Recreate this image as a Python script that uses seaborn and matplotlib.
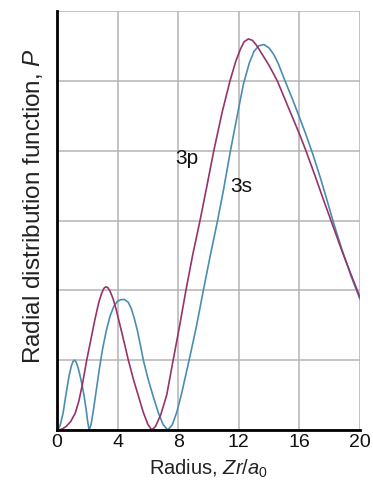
import matplotlib
matplotlib.use("Agg")
import matplotlib.pyplot as plt
import seaborn as sns
import pandas as pd

# 3s radial distribution function
r_3s = [0.0, 0.2, 0.4, 0.6, 0.8, 0.95, 1.08, 1.17, 1.27, 1.38, 1.5, 1.67, 1.8, 1.92, 2.02, 2.12,
        2.25, 2.4, 2.6, 2.8, 3.0, 3.25, 3.5, 3.75, 4.0, 4.2, 4.44, 4.7, 4.9, 5.1, 5.3,
        5.5, 5.7, 6.0, 6.35, 6.7, 7.0, 7.3, 7.6, 7.9, 8.2, 8.45, 8.72, 9.2, 9.66,
        10.1, 10.6, 11.0, 11.45, 11.85, 12.3, 12.7, 13.0, 13.3, 13.66, 14.0, 14.3, 14.6,
        15.05, 15.5, 16.0, 16.45, 16.87, 17.4, 17.85, 18.25, 18.8, 19.4, 20.0]
P_3s = [0.00, 0.06, 0.24, 0.52, 0.78, 0.92, 0.99, 1.00, 0.97, 0.90, 0.80, 0.63, 0.47, 0.30, 0.13, 0.00,
        0.08, 0.28, 0.58, 0.88, 1.15, 1.42, 1.63, 1.77, 1.845, 1.865, 1.87, 1.83, 1.74, 1.60, 1.43,
        1.22, 1.00, 0.74, 0.48, 0.24, 0.08, 0.00, 0.07, 0.25, 0.50, 0.74, 1.00, 1.48, 2.00,
        2.48, 3.00, 3.45, 4.00, 4.45, 4.95, 5.26, 5.42, 5.50, 5.52, 5.47, 5.38, 5.25,
        5.00, 4.76, 4.48, 4.22, 3.96, 3.60, 3.27, 2.97, 2.59, 2.21, 1.87]

# 3p radial distribution function
r_3p = [0.0, 0.3, 0.6, 0.9, 1.2, 1.45, 1.7, 1.96, 2.24, 2.5, 2.75, 2.95, 3.1, 3.22, 3.35, 3.5,
        3.7, 3.9, 4.16, 4.45, 4.71, 5.05, 5.41, 5.7, 6.0, 6.25, 6.5, 6.85, 7.24, 7.65, 8.1,
        8.51, 8.95, 9.44, 9.9, 10.35, 10.9, 11.42, 11.8, 12.1, 12.35, 12.63, 12.9, 13.2,
        13.6, 14.0, 14.54, 15.0, 15.5, 16.0, 16.43, 17.0, 17.6, 18.2, 18.8, 19.4, 20.0]
P_3p = [0.00, 0.01, 0.05, 0.12, 0.24, 0.42, 0.68, 1.00, 1.30, 1.58, 1.82, 1.96, 2.03, 2.05, 2.04, 1.99,
        1.88, 1.73, 1.50, 1.24, 1.00, 0.72, 0.46, 0.25, 0.08, 0.00, 0.05, 0.22, 0.50, 0.98, 1.50,
        2.00, 2.50, 3.00, 3.50, 4.00, 4.55, 5.00, 5.28, 5.45, 5.56, 5.60, 5.58, 5.50,
        5.36, 5.22, 5.00, 4.76, 4.50, 4.24, 4.00, 3.66, 3.29, 2.93, 2.57, 2.23, 1.90]

x_ticks = [0, 4, 8, 12, 16, 20]
y_grid = [0, 1, 2, 3, 4, 5, 6]

sns.set_theme(style="white")
plt.rcParams['font.family'] = ['Liberation Sans', 'DejaVu Sans']
plt.rcParams['mathtext.fontset'] = 'custom'
plt.rcParams['mathtext.it'] = 'Liberation Sans:italic'
plt.rcParams['mathtext.rm'] = 'Liberation Sans'

fig = plt.figure(figsize=(3.73, 4.87), dpi=100)
ax = fig.add_axes([57/373, 57/487, 303/373, 419/487])

df_3s = pd.DataFrame({"r": r_3s, "P": P_3s})
df_3p = pd.DataFrame({"r": r_3p, "P": P_3p})
sns.lineplot(data=df_3s, x="r", y="P", ax=ax, color="#4a8db0", lw=1.2, sort=False)
sns.lineplot(data=df_3p, x="r", y="P", ax=ax, color="#98336a", lw=1.2, sort=False)

ax.set_xlim(0, 20)
ax.set_ylim(0, 6)
ax.set_xticks(x_ticks)
ax.set_yticks(y_grid)
ax.set_yticklabels([])
ax.grid(True, color="#b4b4b4", lw=1.1)
ax.set_axisbelow(True)
for s in ["top", "right"]:
    ax.spines[s].set_visible(False)
for s in ["left", "bottom"]:
    ax.spines[s].set_color("black")
    ax.spines[s].set_linewidth(2)
ax.tick_params(axis="both", length=0, labelsize=14, colors="#111111", pad=3)

ax.set_xlabel(r"Radius, $Zr/a_{\mathrm{0}}$", fontsize=14.5, color="#222222", labelpad=5)
ax.set_ylabel(r"Radial distribution function, $P$", fontsize=17.5, color="#222222")
ax.yaxis.set_label_coords(-0.04, 0.535)

ax.text(8.58, 3.89, "3p", fontsize=15, ha="center", va="center", color="#111111")
ax.text(12.15, 3.49, "3s", fontsize=15, ha="center", va="center", color="#111111")

fig.savefig("out.png", dpi=100)
